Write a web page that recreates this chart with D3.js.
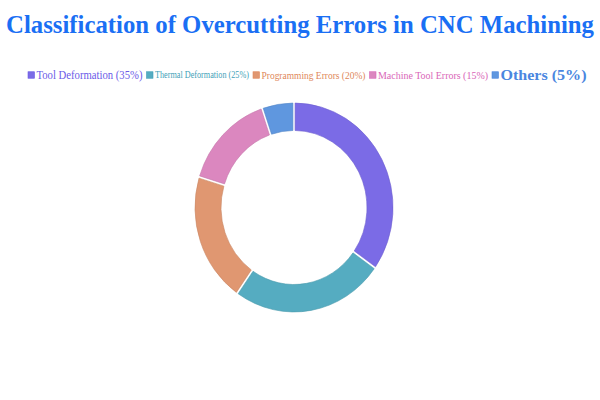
<!DOCTYPE html>
<html>
<head>
<meta charset="utf-8">
<script src="https://d3js.org/d3.v7.min.js"></script>
<style>
  body { margin: 0; background: #fff; }
  svg { display: block; }
</style>
</head>
<body>
<div id="chart"></div>
<script>
// data
var categories = ["Tool Deformation", "Thermal Deformation", "Programming Errors", "Machine Tool Errors", "Others"];
var shares = [35, 25, 20, 15, 5];
var colors = ["#7b6be6", "#55acc1", "#e09771", "#db87bf", "#5f97df"];
var textColors = ["#6a5ae8", "#3f9fb8", "#e0885a", "#d966b8", "#4a86e0"];
// legend text look (each entry has its own size in the reference)
var legendSizes = [11.8, 9.8, 10.8, 10.8, 15.5];
var legendWidths = [106, 94, 104, 110, 86];
var legendWeights = ["normal", "normal", "normal", "normal", "bold"];

var width = 600, height = 400;
var serif = "'Liberation Serif', 'DejaVu Serif', serif";
var svg = d3.select("#chart").append("svg")
    .attr("width", width)
    .attr("height", height);

// title
svg.append("text")
    .attr("x", 300)
    .attr("y", 33)
    .attr("text-anchor", "middle")
    .attr("font-family", serif)
    .attr("font-weight", "bold")
    .attr("font-size", "25px")
    .attr("fill", "#1a6ff4")
    .attr("textLength", 588)
    .attr("lengthAdjust", "spacingAndGlyphs")
    .text("Classification of Overcutting Errors in CNC Machining");

// legend, laid out left to right
var lx = 28;
var legend = svg.append("g").attr("class", "legend");
categories.forEach(function(c, i) {
  var g = legend.append("g");
  var s = 6.5;
  g.append("rect")
      .attr("x", lx)
      .attr("y", 75 - s / 2)
      .attr("width", s)
      .attr("height", s)
      .attr("fill", colors[i])
      .attr("stroke", textColors[i])
      .attr("stroke-width", 0.6);
  g.append("text")
      .attr("x", lx + s + 2)
      .attr("y", 75)
      .attr("dy", "0.35em")
      .attr("font-family", serif)
      .attr("font-size", legendSizes[i] + "px")
      .attr("font-weight", legendWeights[i])
      .attr("fill", textColors[i])
      .attr("textLength", legendWidths[i])
      .attr("lengthAdjust", "spacingAndGlyphs")
      .text(c + " (" + shares[i] + "%)");
  lx = lx + s + 2 + legendWidths[i] + 4;
});

// donut
var pie = d3.pie().sort(null).padAngle(0.018);
var arc = d3.arc().innerRadius(73).outerRadius(99);

var ring = svg.append("g")
    .attr("transform", "translate(294,207.5) scale(1,1.055)");

ring.selectAll("path")
    .data(pie(shares))
  .enter().append("path")
    .attr("d", arc)
    .attr("fill", function(d, i) { return colors[i]; })
    .attr("stroke", function(d, i) { return d3.color(colors[i]).darker(0.3); })
    .attr("stroke-width", 0.6);
</script>
</body>
</html>
